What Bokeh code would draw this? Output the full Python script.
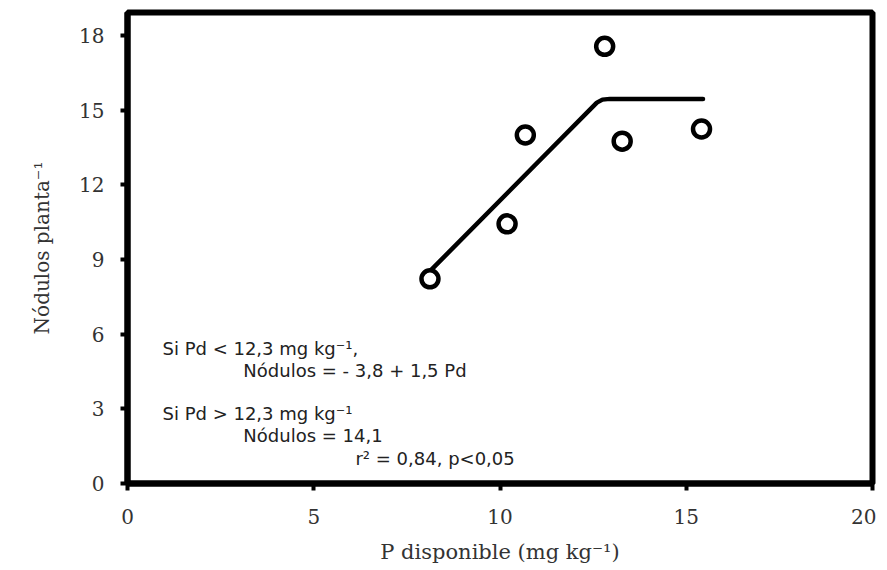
from bokeh.plotting import figure
from bokeh.models import Range1d, Label, FixedTicker
from bokeh.embed import file_html
from bokeh.resources import INLINE

# Observed data (P disponible, Nódulos planta-1)
p_disp = [8.12, 10.19, 10.68, 12.81, 13.28, 15.41]
nodulos = [8.22, 10.43, 14.00, 17.56, 13.75, 14.24]

# Fitted linear-plateau model as drawn
fit_x = [8.10, 12.60, 12.75, 12.95, 15.45]
fit_y = [8.50, 15.30, 15.42, 15.45, 15.45]

x_ticks = [0, 5, 10, 15, 20]
y_ticks = [0, 3, 6, 9, 12, 15, 18]

x_title = "P disponible (mg kg\u207b\u00b9)"
y_title = "N\u00f3dulos planta\u207b\u00b9"

annotations = [
    "Si Pd < 12,3 mg kg\u207b\u00b9,",
    "N\u00f3dulos = - 3,8 + 1,5 Pd",
    "Si Pd > 12,3 mg kg\u207b\u00b9",
    "N\u00f3dulos = 14,1",
    "r\u00b2 = 0,84, p<0,05",
]
ann_x = [0.94, 3.11, 0.94, 3.11, 6.12]
ann_y = [5.42, 4.54, 2.81, 1.93, 1.00]

p = figure(
    frame_width=745, frame_height=471,
    x_range=Range1d(0, 20), y_range=Range1d(0, 18.92),
    output_backend="svg", toolbar_location=None,
    min_border_left=127, min_border_right=4,
    min_border_top=12, min_border_bottom=76,
    background_fill_color="white", border_fill_color="white",
)

p.xgrid.visible = False
p.ygrid.visible = False
p.outline_line_color = "black"
p.outline_line_width = 6

p.xaxis.ticker = FixedTicker(ticks=x_ticks)
p.yaxis.ticker = FixedTicker(ticks=y_ticks)

for ax in (p.xaxis, p.yaxis):
    ax.axis_line_color = "black"
    ax.axis_line_width = 6
    ax.major_tick_out = 7
    ax.major_tick_in = 0
    ax.major_tick_line_width = 4
    ax.major_tick_line_color = "black"
    ax.minor_tick_out = 0
    ax.minor_tick_in = 0
    ax.major_label_text_font = "DejaVu Serif"
    ax.major_label_text_font_size = "20px"
    ax.major_label_text_color = "#333333"
    ax.axis_label_text_font = "DejaVu Serif"
    ax.axis_label_text_font_style = "normal"
    ax.axis_label_text_color = "#333333"

p.xaxis.axis_label = x_title
p.xaxis.axis_label_text_font_size = "21px"
p.xaxis.major_label_standoff = 18
p.xaxis.axis_label_standoff = 13

p.yaxis.axis_label = y_title
p.yaxis.axis_label_text_font_size = "20px"
p.yaxis.major_label_standoff = 16
p.yaxis.axis_label_standoff = 22

p.line(fit_x, fit_y, line_width=4.5, line_color="black", line_join="round", line_cap="round")
p.scatter(p_disp, nodulos, marker="circle", size=17, line_width=4.5,
          line_color="black", fill_color="white")

for t, xx, yy in zip(annotations, ann_x, ann_y):
    p.add_layout(Label(x=xx, y=yy, text=t, text_font="DejaVu Sans",
                       text_font_size="18px", text_color="#222222",
                       text_baseline="alphabetic", text_align="left"))

open("out.html", "w").write(file_html(p, INLINE))
